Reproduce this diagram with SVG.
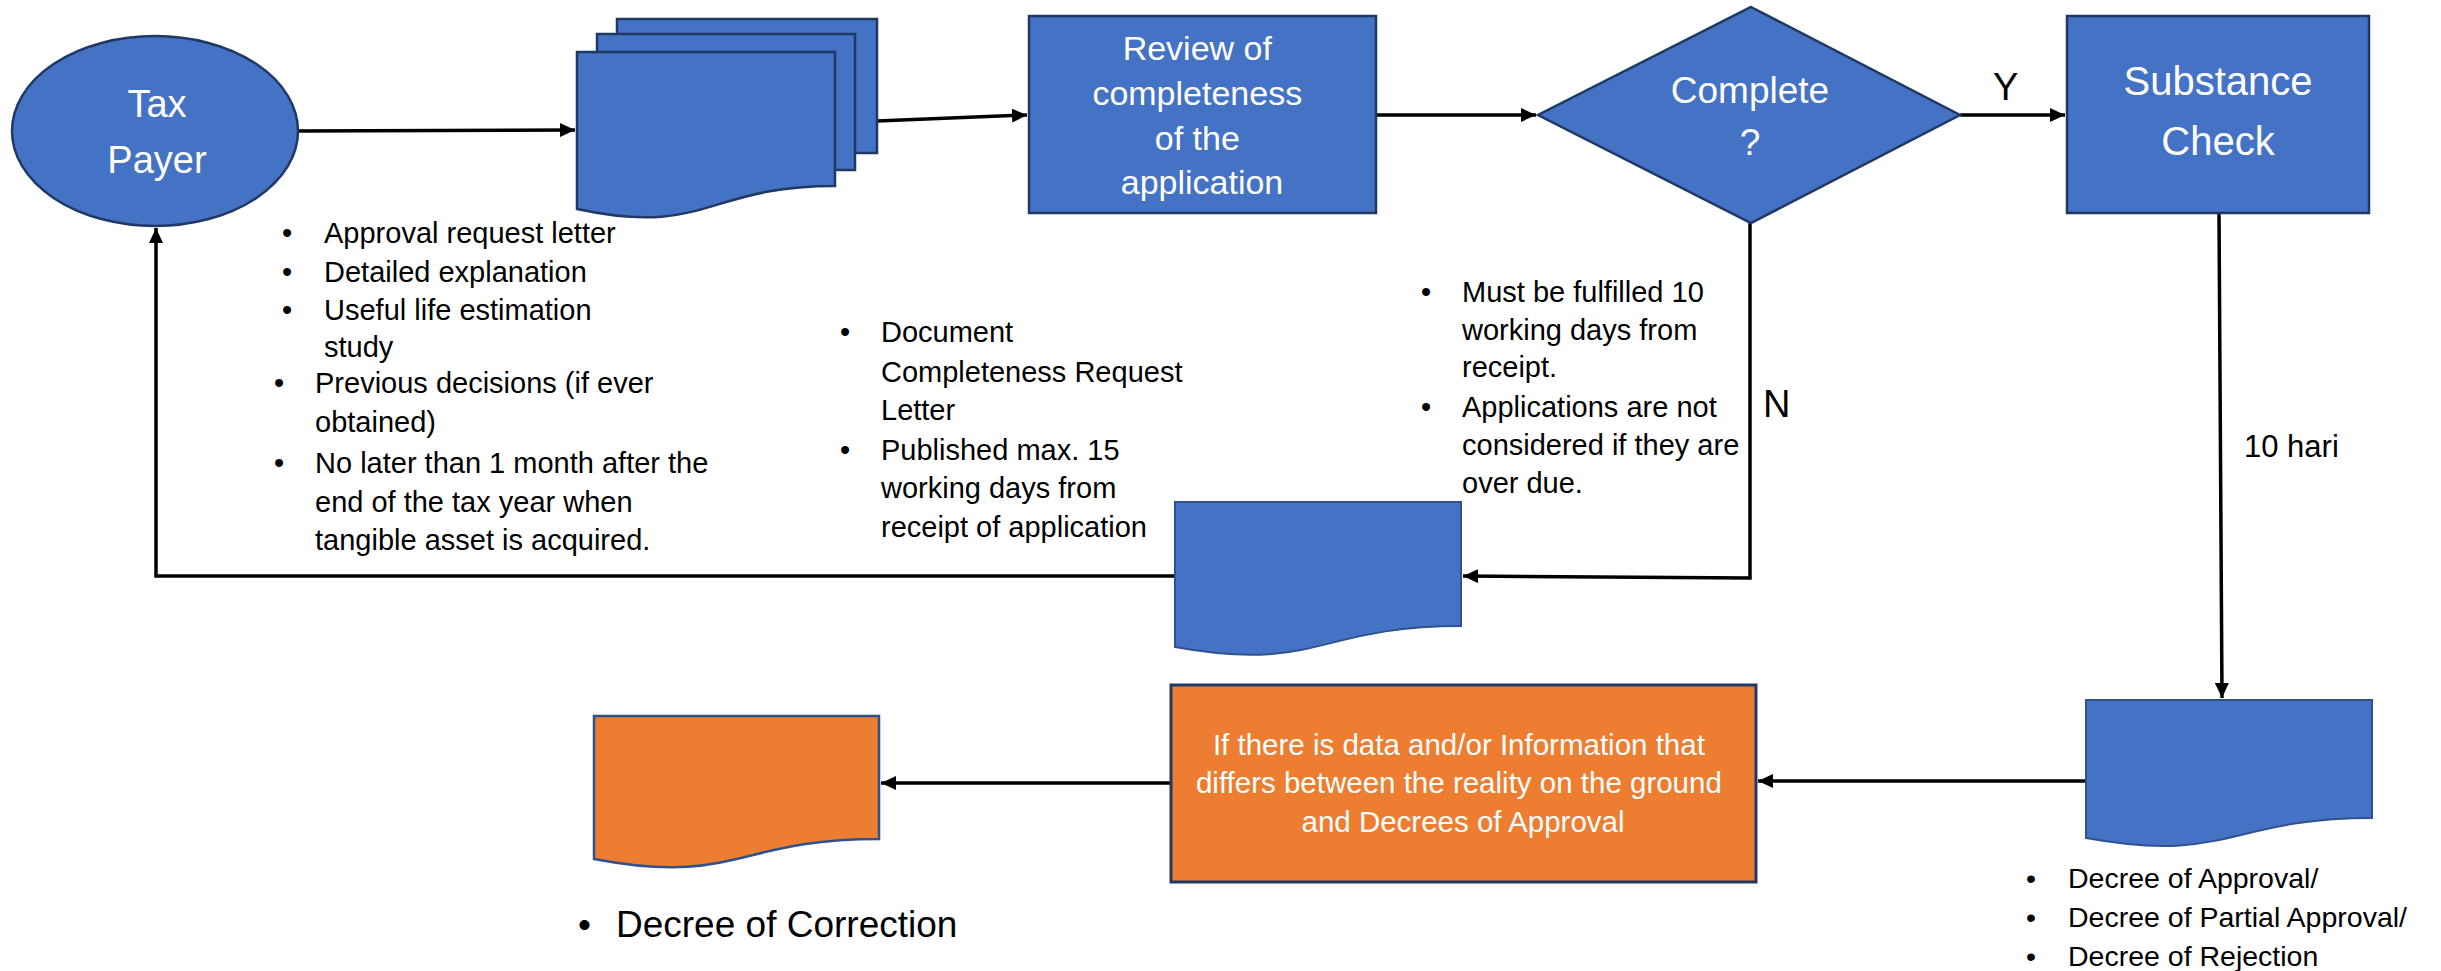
<svg xmlns="http://www.w3.org/2000/svg" width="2441" height="971" viewBox="0 0 2441 971">
<style>
.blue{fill:#4472C4;stroke:#1F3864;stroke-width:2.5}
.bdoc{fill:#4472C4;stroke:#2F528F;stroke-width:2}
.odoc{fill:#ED7D31;stroke:#2F528F;stroke-width:2.5}
.orect{fill:#ED7D31;stroke:#1F3864;stroke-width:3}
.wt{fill:#ffffff;font-family:"Liberation Sans",Arial,sans-serif;text-anchor:middle}
.bt{fill:#000000;font-family:"Liberation Sans",Arial,sans-serif}
.conn{fill:none;stroke:#000000;stroke-width:3.5}
</style>
<defs>
<marker id="arr" markerUnits="userSpaceOnUse" markerWidth="16" markerHeight="14" refX="15" refY="7" orient="auto">
<path d="M0,0 L15,7 L0,14 Z" fill="#000000"/>
</marker>
</defs>
<rect width="2441" height="971" fill="#ffffff"/>

<g id="connectors">
<path class="conn" d="M298,131 L575,130" marker-end="url(#arr)"/>
<path class="conn" d="M877,121 L1027,115" marker-end="url(#arr)"/>
<path class="conn" d="M1376,115 L1536,115" marker-end="url(#arr)"/>
<path class="conn" d="M1960,115 L2065,115" marker-end="url(#arr)"/>
<path class="conn" d="M1750,223 L1750,578 L1463,576" marker-end="url(#arr)"/>
<path class="conn" d="M1175,576 L156,576 L156,228" marker-end="url(#arr)"/>
<path class="conn" d="M2219,213 L2222,698" marker-end="url(#arr)"/>
<path class="conn" d="M2086,781 L1758,781" marker-end="url(#arr)"/>
<path class="conn" d="M1171,783 L881,783" marker-end="url(#arr)"/>
<text class="bt" x="1993" y="100" font-size="38">Y</text>
<text class="bt" x="1763" y="417" font-size="38">N</text>
<text class="bt" x="2244" y="457" font-size="31">10 hari</text>
</g>

<g id="tax-payer">
<ellipse class="blue" cx="155" cy="131" rx="143" ry="95"/>
<text class="wt" x="157" y="117" font-size="38">Tax</text>
<text class="wt" x="157" y="173" font-size="38">Payer</text>
</g>

<g id="application-documents">
<rect class="blue" x="617" y="19" width="260" height="134"/>
<rect class="blue" x="597" y="34" width="258" height="136"/>
<path class="blue" d="M577,52 H835 V186 C706,186 706,237 577,209 Z"/>
</g>

<g id="application-list">
<text class="bt" font-size="29">
<tspan x="282" y="243">•</tspan><tspan x="324" y="243">Approval request letter</tspan>
<tspan x="282" y="282">•</tspan><tspan x="324" y="282">Detailed explanation</tspan>
<tspan x="282" y="320">•</tspan><tspan x="324" y="320">Useful life estimation</tspan>
<tspan x="324" y="357">study</tspan>
<tspan x="274" y="393">•</tspan><tspan x="315" y="393">Previous decisions (if ever</tspan>
<tspan x="315" y="432">obtained)</tspan>
<tspan x="274" y="473">•</tspan><tspan x="315" y="473">No later than 1 month after the</tspan>
<tspan x="315" y="512">end of the tax year when</tspan>
<tspan x="315" y="550">tangible asset is acquired.</tspan>
</text>
</g>

<g id="review">
<rect class="blue" x="1029" y="16" width="347" height="197"/>
<text class="wt" font-size="34">
<tspan x="1202" y="60">Review of</tspan>
<tspan x="1202" y="105">completeness</tspan>
<tspan x="1202" y="150">of the</tspan>
<tspan x="1202" y="194">application</tspan>
</text>
</g>

<g id="complete-decision">
<polygon class="blue" points="1751,7 1960,115 1751,223 1538,115"/>
<text class="wt" x="1750" y="103" font-size="37">Complete</text>
<text class="wt" x="1750" y="155" font-size="37">?</text>
</g>

<g id="substance-check">
<rect class="blue" x="2067" y="16" width="302" height="197"/>
<text class="wt" x="2218" y="95" font-size="40">Substance</text>
<text class="wt" x="2218" y="155" font-size="40">Check</text>
</g>

<g id="completeness-request-letter">
<path class="bdoc" d="M1175,502 H1461 V626 C1318,626 1318,673 1175,647 Z"/>
<text class="bt" font-size="29">
<tspan x="840" y="342">•</tspan><tspan x="881" y="342">Document</tspan>
<tspan x="881" y="382">Completeness Request</tspan>
<tspan x="881" y="420">Letter</tspan>
<tspan x="840" y="460">•</tspan><tspan x="881" y="460">Published max. 15</tspan>
<tspan x="881" y="498">working days from</tspan>
<tspan x="881" y="537">receipt of application</tspan>
</text>
</g>

<g id="deadline-notes">
<text class="bt" font-size="29">
<tspan x="1421" y="302">•</tspan><tspan x="1462" y="302">Must be fulfilled 10</tspan>
<tspan x="1462" y="340">working days from</tspan>
<tspan x="1462" y="377">receipt.</tspan>
<tspan x="1421" y="417">•</tspan><tspan x="1462" y="417">Applications are not</tspan>
<tspan x="1462" y="455">considered if they are</tspan>
<tspan x="1462" y="493">over due.</tspan>
</text>
</g>

<g id="decree">
<path class="bdoc" d="M2086,700 H2372 V818 C2229,818 2229,864 2086,838 Z"/>
<text class="bt" font-size="28.5">
<tspan x="2026" y="888">•</tspan><tspan x="2068" y="888">Decree of Approval/</tspan>
<tspan x="2026" y="927">•</tspan><tspan x="2068" y="927">Decree of Partial Approval/</tspan>
<tspan x="2026" y="966">•</tspan><tspan x="2068" y="966">Decree of Rejection</tspan>
</text>
</g>

<g id="data-difference">
<rect class="orect" x="1171" y="685" width="585" height="197"/>
<text class="wt" font-size="29.5">
<tspan x="1463" y="755">If there is data and/or Information that</tspan>
<tspan x="1463" y="793">differs between the reality on the ground</tspan>
<tspan x="1463" y="832">and Decrees of Approval</tspan>
</text>
</g>

<g id="decree-of-correction">
<path class="odoc" d="M594,716 H879 V839 C736,839 736,886 594,859 Z"/>
<text class="bt" font-size="37">
<tspan x="578" y="937">•</tspan><tspan x="616" y="937">Decree of Correction</tspan>
</text>
</g>
</svg>
